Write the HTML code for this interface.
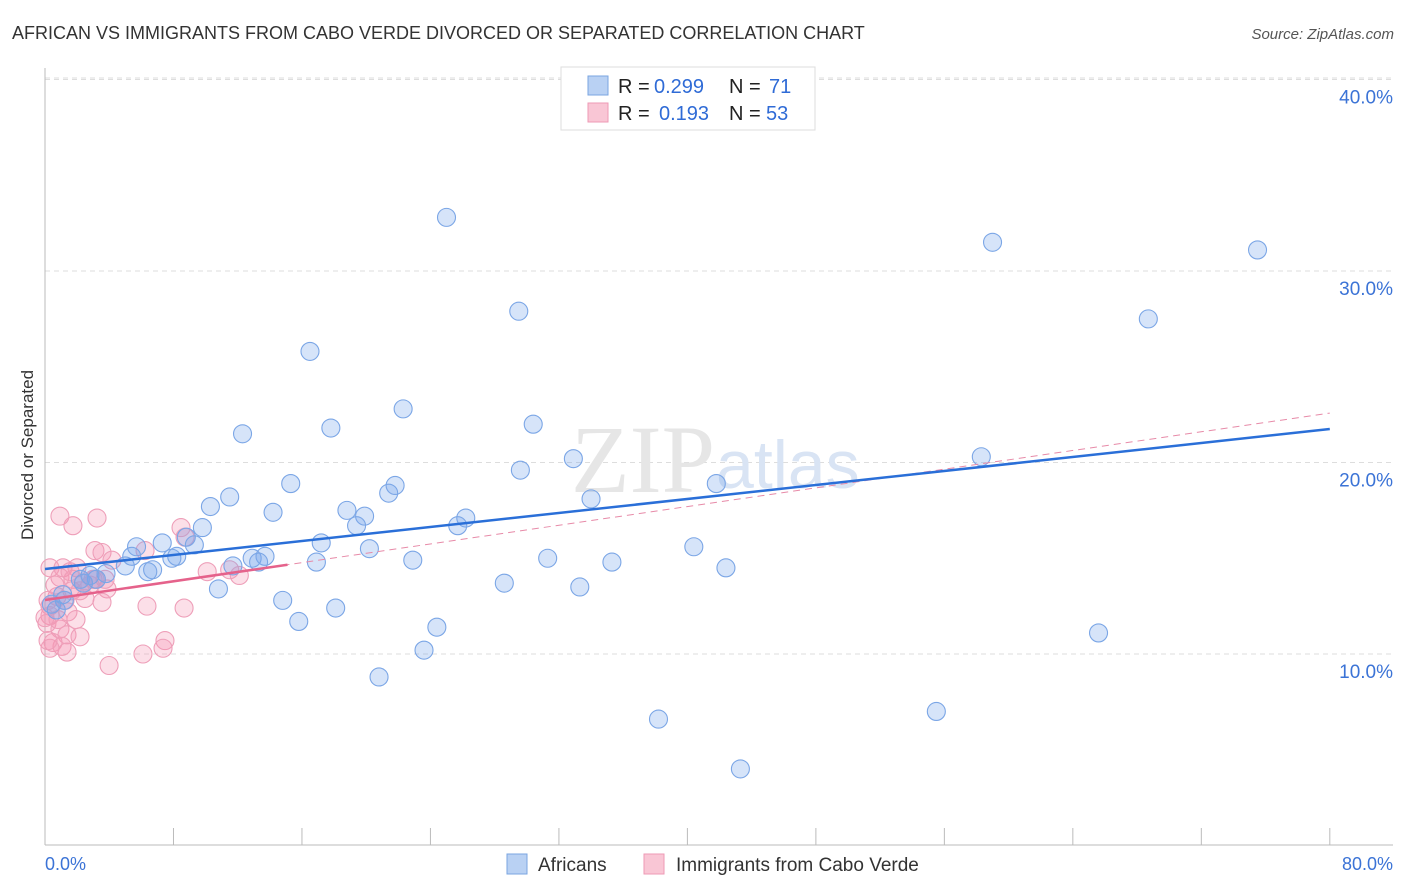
<!DOCTYPE html>
<html><head><meta charset="utf-8"><style>
body{margin:0;background:#fff;font-family:"Liberation Sans",sans-serif;}
#wrap{position:relative;width:1406px;height:892px;overflow:hidden;}
</style></head><body><div id="wrap">
<svg id="svg" width="1406" height="892" xmlns="http://www.w3.org/2000/svg">
<text x="12" y="39" font-size="18" fill="#333">AFRICAN VS IMMIGRANTS FROM CABO VERDE DIVORCED OR SEPARATED CORRELATION CHART</text>
<text x="1394" y="39" font-size="15" fill="#555" font-style="italic" text-anchor="end">Source: ZipAtlas.com</text>
<text transform="translate(33,455) rotate(-90)" font-size="17" fill="#333" text-anchor="middle">Divorced or Separated</text>
<g id="grid"></g>
<text x="715" y="492" font-size="96" fill="#e6e6e6" font-family="Liberation Serif,serif" text-anchor="end">ZIP</text>
<text x="716" y="488" font-size="68" fill="#d9e4f4">atlas</text>
<g id="marks"></g>
<g>
<rect x="561" y="67" width="254" height="63" fill="#fff" stroke="#ddd"/>
<rect x="588" y="76" width="20" height="19" fill="#b9d1f3" stroke="#7aa5e0"/>
<rect x="588" y="103" width="20" height="19" fill="#f9c6d5" stroke="#ee9ab5"/>
<text x="618" y="93" font-size="20" fill="#222">R =</text>
<text x="654" y="93" font-size="20" fill="#2f6bd6">0.299</text>
<text x="729" y="93" font-size="20" fill="#222">N =</text>
<text x="769" y="93" font-size="20" fill="#2f6bd6">71</text>
<text x="618" y="120" font-size="20" fill="#222">R =</text>
<text x="659" y="120" font-size="20" fill="#2f6bd6">0.193</text>
<text x="729" y="120" font-size="20" fill="#222">N =</text>
<text x="766" y="120" font-size="20" fill="#2f6bd6">53</text>
</g>
<g>
<rect x="507" y="854" width="20" height="20" fill="#b9d1f3" stroke="#7aa5e0"/>
<text x="538" y="871" font-size="19" fill="#333">Africans</text>
<rect x="644" y="854" width="20" height="20" fill="#f9c6d5" stroke="#ee9ab5"/>
<text x="676" y="871" font-size="19" fill="#333">Immigrants from Cabo Verde</text>
</g>
<text x="45" y="870" font-size="18" fill="#3b73d6">0.0%</text>
<text x="1393" y="870" font-size="18" fill="#3b73d6" text-anchor="end">80.0%</text>
</svg></div>
<script>
const blueX=[25.0,59.0,75.5,29.5,68.7,16.5,22.3,17.8,30.4,12.3,32.9,29.6,58.3,15.3,11.5,21.4,21.8,41.8,34.0,10.3,14.2,18.8,19.9,19.4,26.2,25.7,9.8,8.8,17.2,20.2,40.4,7.3,5.7,9.3,5.4,8.2,7.9,12.9,13.7,13.3,16.9,22.9,31.3,35.3,11.7,6.7,6.4,5.0,3.8,3.2,2.4,2.2,2.8,42.4,28.6,33.3,10.8,14.8,18.1,15.8,24.4,65.6,23.6,20.8,38.2,55.5,43.3,1.2,0.4,0.7,1.1];
const blueY=[32.8,31.5,31.1,27.9,27.5,25.8,22.8,21.8,22.0,21.5,20.2,19.6,20.3,18.9,18.2,18.4,18.8,18.9,18.1,17.7,17.4,17.5,17.2,16.7,17.1,16.7,16.6,16.1,15.8,15.5,15.6,15.8,15.6,15.7,15.1,15.1,15.0,15.0,15.1,14.8,14.8,14.9,15.0,14.8,14.6,14.4,14.3,14.6,14.2,13.9,13.7,13.9,14.1,14.5,13.7,13.5,13.4,12.8,12.4,11.7,11.4,11.1,10.2,8.8,6.6,7.0,4.0,12.8,12.6,12.3,13.1];
const pinkX=[0.93,1.74,3.24,3.11,3.55,4.17,8.47,8.72,6.23,0.31,1.12,1.99,0.93,1.74,2.37,2.99,3.86,1.68,2.18,0.75,0.31,0.31,0.12,3.55,6.35,8.66,10.1,11.5,12.1,0.93,1.37,2.18,0.5,1.06,0.31,1.37,6.1,7.47,7.35,3.99,0,0.62,0.19,2.49,1.25,3.74,1.56,2.8,0.81,0.19,1.43,1.93,3.11];
const pinkY=[17.2,16.7,17.1,15.4,15.3,14.9,16.6,16.1,15.4,14.5,14.5,14.5,14.0,13.9,13.7,13.9,13.4,13.3,13.3,13.0,12.5,12.0,11.6,12.7,12.5,12.4,14.3,14.4,14.1,11.3,11.0,10.9,10.6,10.4,10.3,10.1,10.0,10.7,10.3,9.4,11.9,13.6,12.8,12.9,12.8,13.9,14.3,13.6,11.8,10.7,12.2,11.8,13.9];
const blueTrend=[14.44,21.75];
const pinkTrend=[12.82,22.58];
const pinkSolidEnd=15.1;
const yTicks=[10,20,30,40];
const yTickLabels=["10.0%","20.0%","30.0%","40.0%"];
const xTicks=[0,8,16,24,32,40,48,56,64,72,80];

const NS="http://www.w3.org/2000/svg";
const sx=v=>45+v*16.06, sy=v=>845.5-v*19.15;
function mk(t,a,p){const e=document.createElementNS(NS,t);for(const k in a)e.setAttribute(k,a[k]);p.appendChild(e);return e;}
const gridG=document.getElementById('grid'), marksG=document.getElementById('marks');
yTicks.forEach((t,i)=>{
 const l=mk('line',{x1:45,x2:1393,y1:sy(t),y2:sy(t),stroke:'#ddd','stroke-dasharray':'5,4'},gridG);
 
 
 const tx=mk('text',{x:1393,y:sy(t)+24,'font-size':19,fill:'#3b73d6','text-anchor':'end'},gridG);
 tx.textContent=yTickLabels[i];
 
 
});
mk('line',{x1:45,x2:1393,y1:78,y2:78,stroke:'#ddd','stroke-dasharray':'5,4'},gridG);
mk('line',{x1:45,x2:45,y1:68,y2:845,stroke:'#bbb'},gridG);
const xa=mk('line',{x1:45,x2:1393,y1:845,y2:845,stroke:'#bbb'},gridG);


xTicks.forEach(t=>{
 const l=mk('line',{x1:sx(t),x2:sx(t),y1:828,y2:845,stroke:'#bbb'},gridG);
 
 
});
pinkX.forEach((x,i)=>{
 const c=mk('circle',{cx:sx(x),cy:sy(pinkY[i]),r:9,fill:'rgba(244,150,180,0.3)',stroke:'#ee9fb9','stroke-width':1.1},marksG);
 
 
});
blueX.forEach((x,i)=>{
 const c=mk('circle',{cx:sx(x),cy:sy(blueY[i]),r:9,fill:'rgba(120,165,235,0.3)',stroke:'#7ba6e6','stroke-width':1.1},marksG);
 
 
});
const pd=mk('line',{x1:sx(0),y1:sy(pinkTrend[0]),x2:sx(80),y2:sy(pinkTrend[1]),stroke:'#e78aa8','stroke-width':1,'stroke-dasharray':'7,5'},marksG);


const pe=pinkTrend[0]+(pinkTrend[1]-pinkTrend[0])*pinkSolidEnd/80;
const ps=mk('line',{x1:sx(0),y1:sy(pinkTrend[0]),x2:sx(pinkSolidEnd),y2:sy(pe),stroke:'#e5628b','stroke-width':2.5},marksG);


const bl=mk('line',{x1:sx(0),y1:sy(blueTrend[0]),x2:sx(80),y2:sy(blueTrend[1]),stroke:'#2a6fd8','stroke-width':2.5},marksG);


</script>
</body></html>
